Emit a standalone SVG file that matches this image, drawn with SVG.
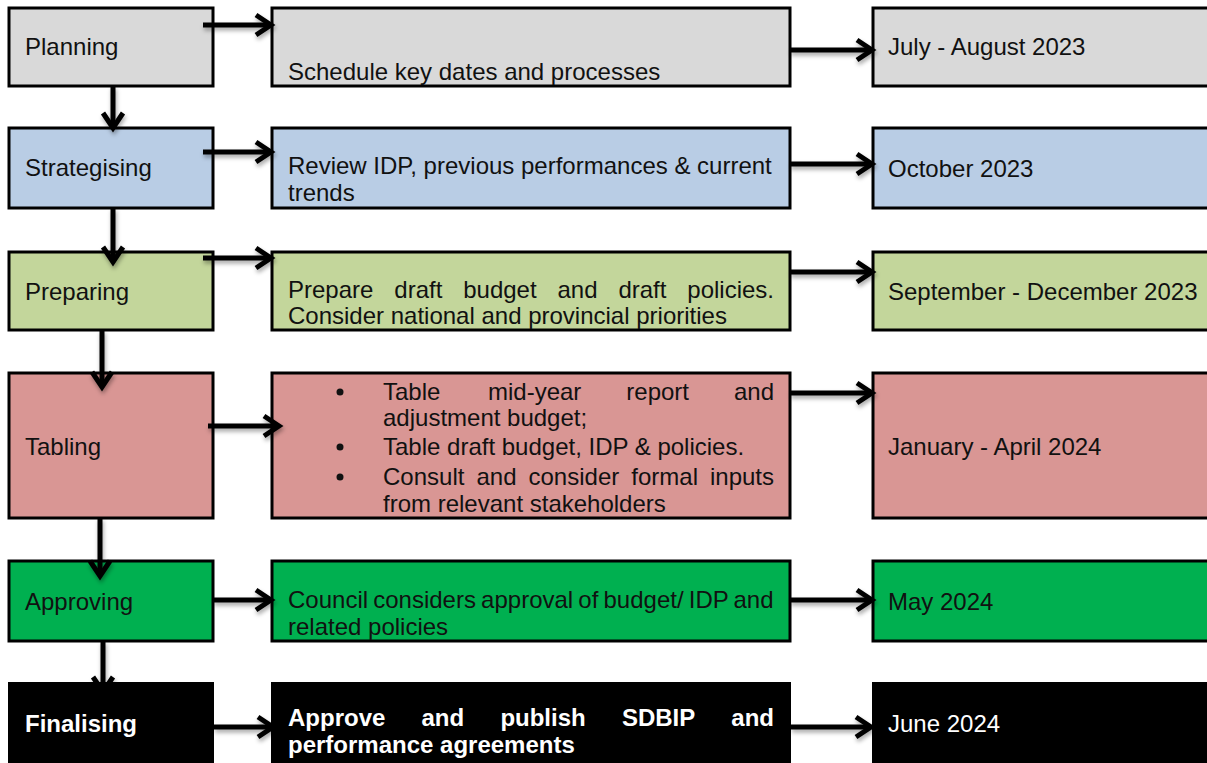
<svg xmlns="http://www.w3.org/2000/svg" width="1207" height="763" viewBox="0 0 1207 763">
<style>
.box{stroke:#000;stroke-width:3}
.t{font-family:"Liberation Sans",Arial,sans-serif;font-size:24px;fill:#111}
.w{fill:#fff}
.b{font-weight:bold}
.gray{fill:#D9D9D9}.blue{fill:#B9CDE5}.lg{fill:#C3D69B}.pink{fill:#D99694}.green{fill:#00B050}.blk{fill:#000}
.c{fill:none;stroke:#000;stroke-width:5}
</style>
<defs>
<marker id="ah" markerUnits="userSpaceOnUse" markerWidth="26" markerHeight="28" viewBox="-20 -14 26 28" refX="0" refY="0" orient="auto">
<path d="M-15,-10 L0,0 L-15,10" fill="none" stroke="#000" stroke-width="5"/>
</marker>
<filter id="sh" x="-20%" y="-50%" width="140%" height="200%">
<feDropShadow dx="1" dy="3" stdDeviation="2" flood-color="#000" flood-opacity="0.35"/>
</filter>
</defs>
<rect width="1207" height="763" fill="#fff"/>

<g id="planning"><rect class="box gray" x="9" y="8" width="204" height="78"/><text class="t" x="25" y="55">Planning</text></g>
<g id="planning-task"><rect class="box gray" x="272" y="8" width="518" height="78"/><text class="t" x="288" y="80">Schedule key dates and processes</text></g>
<g id="planning-date"><rect class="box gray" x="873" y="8" width="340" height="78"/><text class="t" x="888" y="55">July - August 2023</text></g>

<g id="strategising"><rect class="box blue" x="9" y="128" width="204" height="80"/><text class="t" x="25" y="176">Strategising</text></g>
<g id="strategising-task"><rect class="box blue" x="272" y="128" width="518" height="80"/><text class="t" x="288" y="174">Review IDP, previous performances &amp; current</text><text class="t" x="288" y="201">trends</text></g>
<g id="strategising-date"><rect class="box blue" x="873" y="128" width="340" height="80"/><text class="t" x="888" y="177">October 2023</text></g>

<g id="preparing"><rect class="box lg" x="9" y="252" width="204" height="78"/><text class="t" x="25" y="300">Preparing</text></g>
<g id="preparing-task"><rect class="box lg" x="272" y="252" width="518" height="78"/>
<text class="t" y="298"><tspan x="288">Prepare</tspan><tspan x="394.3">draft</tspan><tspan x="463.2">budget</tspan><tspan x="557.5">and</tspan><tspan x="618.4">draft</tspan><tspan x="774" text-anchor="end">policies.</tspan></text>
<text class="t" x="288" y="324">Consider national and provincial priorities</text></g>
<g id="preparing-date"><rect class="box lg" x="873" y="252" width="340" height="78"/><text class="t" x="888" y="300">September - December 2023</text></g>

<g id="tabling"><rect class="box pink" x="9" y="373" width="204" height="145"/><text class="t" x="25" y="455">Tabling</text></g>
<g id="tabling-task"><rect class="box pink" x="272" y="373" width="518" height="145"/>
<circle cx="340" cy="392" r="3.5" fill="#111"/><circle cx="340" cy="447" r="3.5" fill="#111"/><circle cx="340" cy="477" r="3.5" fill="#111"/>
<text class="t" y="400"><tspan x="383">Table</tspan><tspan x="488">mid-year</tspan><tspan x="626.3">report</tspan><tspan x="774" text-anchor="end">and</tspan></text>
<text class="t" x="383" y="426">adjustment budget;</text>
<text class="t" x="383" y="455">Table draft budget, IDP &amp; policies.</text>
<text class="t" y="485"><tspan x="383">Consult</tspan><tspan x="476.5">and</tspan><tspan x="528.5">consider</tspan><tspan x="631.3">formal</tspan><tspan x="774" text-anchor="end">inputs</tspan></text>
<text class="t" x="383" y="512">from relevant stakeholders</text></g>
<g id="tabling-date"><rect class="box pink" x="873" y="373" width="340" height="145"/><text class="t" x="888" y="455">January - April 2024</text></g>

<g id="approving"><rect class="box green" x="9" y="561" width="204" height="80"/><text class="t" x="25" y="610">Approving</text></g>
<g id="approving-task"><rect class="box green" x="272" y="561" width="518" height="80"/><text class="t" x="288" y="608" word-spacing="-1.5">Council considers approval of budget/ IDP and</text><text class="t" x="288" y="635">related policies</text></g>
<g id="approving-date"><rect class="box green" x="873" y="561" width="340" height="80"/><text class="t" x="888" y="610">May 2024</text></g>

<g id="finalising"><rect class="blk" x="8" y="682" width="206" height="90"/><text class="t w b" x="25" y="732">Finalising</text></g>
<g id="finalising-task"><rect class="blk" x="271" y="682" width="520" height="90"/>
<text class="t w b" y="726"><tspan x="288">Approve</tspan><tspan x="421.5">and</tspan><tspan x="500.4">publish</tspan><tspan x="621.9">SDBIP</tspan><tspan x="774" text-anchor="end">and</tspan></text>
<text class="t w b" x="288" y="753">performance agreements</text></g>
<g id="finalising-date"><rect class="blk" x="872" y="682" width="340" height="90"/><text class="t w" x="888" y="732">June 2024</text></g>

<g id="connectors" filter="url(#sh)">
<path class="c" d="M113,86 V128" marker-end="url(#ah)"/>
<path class="c" d="M113,208 V262" marker-end="url(#ah)"/>
<path class="c" d="M102,330 V387" marker-end="url(#ah)"/>
<path class="c" d="M100,518 V576" marker-end="url(#ah)"/>
<path class="c" d="M103,641 V692" marker-end="url(#ah)"/>
<path class="c" d="M203,25 H271" marker-end="url(#ah)"/>
<path class="c" d="M790,50 H872" marker-end="url(#ah)"/>
<path class="c" d="M203,152 H271" marker-end="url(#ah)"/>
<path class="c" d="M790,164 H872" marker-end="url(#ah)"/>
<path class="c" d="M203,258 H271" marker-end="url(#ah)"/>
<path class="c" d="M790,272 H872" marker-end="url(#ah)"/>
<path class="c" d="M208,426 H279" marker-end="url(#ah)"/>
<path class="c" d="M790,393 H872" marker-end="url(#ah)"/>
<path class="c" d="M213,600 H271" marker-end="url(#ah)"/>
<path class="c" d="M790,600 H872" marker-end="url(#ah)"/>
<path class="c" d="M214,727 H273" marker-end="url(#ah)"/>
<path class="c" d="M791,727 H871" marker-end="url(#ah)"/>
</g>
</svg>
